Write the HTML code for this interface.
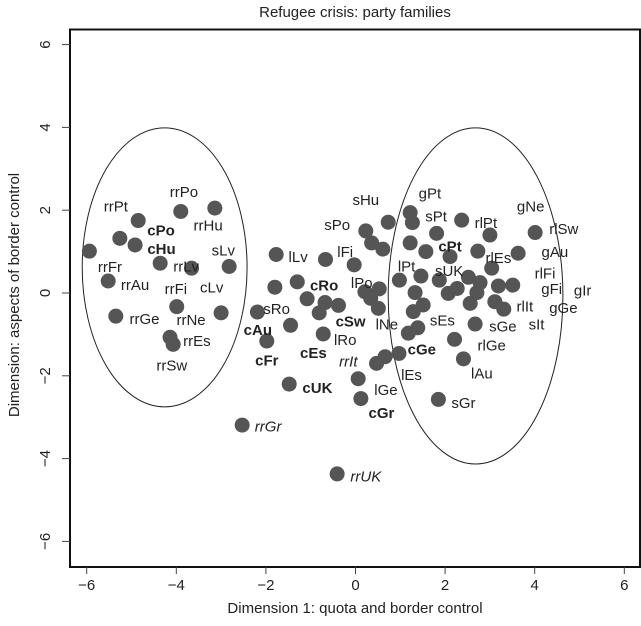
<!DOCTYPE html>
<html><head><meta charset="utf-8"><style>
body{margin:0;background:#fff;}
svg{display:block;font-family:"Liberation Sans",Arial,sans-serif;}
</style></head><body>
<svg id="chart" width="641" height="626" viewBox="0 0 641 626" xmlns="http://www.w3.org/2000/svg">
<text x="355" y="17" text-anchor="middle" font-size="15" fill="#222">Refugee crisis: party families</text>
<text x="355" y="613" text-anchor="middle" font-size="15" fill="#222">Dimension 1: quota and border control</text>
<text transform="translate(19,295) rotate(-90)" text-anchor="middle" font-size="15" fill="#222">Dimension: aspects of border control</text>
<rect x="70" y="29.5" width="570" height="537.5" fill="none" stroke="#111" stroke-width="2"/>
<g id="axes"></g><g id="ellipses"></g><g id="dots"></g><g id="labels"></g>
</svg>
<script>
const xTicks=[-6,-4,-2,0,2,4,6];
const yTicks=[-6,-4,-2,0,2,4,6];
const dotX=[-4.85,-5.26,-4.92,-5.94,-3.90,-3.14,-4.36,-3.66,-2.82,-5.52,-3.99,-3.00,-5.35,-4.14,-4.07,-2.53,-0.41,
-2.19,-1.98,-1.77,-1.80,-1.30,-1.45,-1.48,-1.08,-0.68,-0.81,-0.38,-0.72,-0.67,-0.03,0.21,0.53,0.34,0.51,0.06,0.12,0.47,0.66,0.23,0.36,0.61,0.73,0.97,0.98,
1.22,1.27,1.22,1.81,2.37,3.00,1.57,2.11,2.73,3.63,4.01,3.04,1.46,1.87,2.52,2.78,3.19,3.51,1.33,2.07,2.27,2.71,2.56,3.11,3.31,1.51,1.29,1.39,1.18,2.67,2.21,2.41,1.85];
const dotY=[1.75,1.32,1.16,1.01,1.97,2.05,0.72,0.60,0.64,0.29,-0.33,-0.48,-0.56,-1.07,-1.24,-3.19,-4.37,
-0.46,-1.16,0.93,0.14,0.27,-0.78,-2.20,-0.14,-0.23,-0.48,-0.30,-0.99,0.81,0.68,0.03,0.10,-0.13,-0.37,-2.07,-2.55,-1.70,-1.54,1.50,1.21,1.06,1.71,-1.46,0.31,
1.94,1.70,1.21,1.44,1.76,1.40,1.00,0.88,1.01,0.96,1.46,0.60,0.41,0.31,0.38,0.25,0.17,0.19,0.01,-0.01,0.11,0.01,-0.25,-0.21,-0.39,-0.29,-0.45,-0.84,-0.97,-0.75,-1.12,-1.59,-2.57];
const labelText=["rrPo","rrPt","cPo","rrHu","cHu","sLv","rrFr","rrLv","rrAu","rrFi","cLv","rrGe","rrNe","rrEs","rrSw","cAu","cFr","rrGr","rrUK",
"sHu","sPo","lLv","lFi","lPt","lPo","cRo","sRo","cSw","lNe","lRo","cEs","rrIt","cGe","lEs","cUK","lGe","cGr",
"gPt","sPt","rlPt","gNe","rlSw","cPt","rlEs","gAu","sUK","rlFi","gFi","gIr","rlIt","gGe","sEs","sGe","sIt","rlGe","lAu","sGr"];
const labelX=[-3.83,-5.35,-4.34,-3.29,-4.33,-2.95,-5.48,-3.78,-4.92,-4.01,-3.21,-4.71,-3.67,-3.54,-4.10,-2.18,-1.98,-1.95,0.23,
0.23,-0.41,-1.28,-0.23,1.14,0.14,-0.70,-1.76,-0.11,0.70,-0.23,-0.94,-0.16,1.48,1.25,-0.85,0.68,0.58,
1.66,1.80,2.91,3.91,4.65,2.11,3.19,4.45,2.09,4.23,4.38,5.07,3.78,4.64,1.94,3.29,4.04,3.04,2.82,2.41];
const labelY=[2.45,2.10,1.52,1.64,1.08,1.04,0.64,0.65,0.21,0.11,0.15,-0.61,-0.64,-1.15,-1.74,-0.88,-1.62,-3.21,-4.42,
2.26,1.65,0.88,1.00,0.65,0.25,0.19,-0.37,-0.68,-0.75,-1.12,-1.44,-1.64,-1.35,-1.97,-2.28,-2.33,-2.89,
2.42,1.86,1.70,2.10,1.56,1.14,0.86,1.00,0.54,0.48,0.11,0.07,-0.31,-0.35,-0.65,-0.80,-0.75,-1.26,-1.93,-2.65];
const ellCx=[-4.26,2.68], ellCy=[0.62,-0.07], ellRx=[1.84,1.95], ellRy=[3.37,4.06];
const boldSet=["cPo","cHu","cAu","cFr","cRo","cSw","cEs","cGe","cUK","cGr","cPt"];
const italSet=["rrGr","rrUK","rrIt"];

const sx=v=>355.5+v*44.8, sy=v=>293-v*41.4;
const NS="http://www.w3.org/2000/svg";
function mk(t,p,a){const e=document.createElementNS(NS,t);for(const k in a)e.setAttribute(k,a[k]);p.appendChild(e);return e;}
const ax=document.getElementById('axes');
xTicks.forEach(v=>{
 const l=mk('line',ax,{x1:sx(v),x2:sx(v),y1:567,y2:574,stroke:'#444','stroke-width':1});
 
 
 const t=mk('text',ax,{x:sx(v),y:590,'text-anchor':'middle','font-size':15,fill:'#222'});
 t.textContent=(v<0?'\u2212'+(-v):String(v));
 
 
});
yTicks.forEach(v=>{
 const l=mk('line',ax,{x1:62,x2:70,y1:sy(v),y2:sy(v),stroke:'#444','stroke-width':1});
 
 
 const t=mk('text',ax,{transform:`translate(50,${sy(v)}) rotate(-90)`,'text-anchor':'middle','font-size':15,fill:'#222'});
 t.textContent=(v<0?'\u2212'+(-v):String(v));
 
 
});
const eg=document.getElementById('ellipses');
ellCx.forEach((c,i)=>{
 const e=mk('ellipse',eg,{cx:sx(c),cy:sy(ellCy[i]),rx:ellRx[i]*44.8,ry:ellRy[i]*41.4,fill:'none',stroke:'#222','stroke-width':1});
 
 
});
const dg=document.getElementById('dots');
dotX.forEach((x,i)=>{
 const c=mk('circle',dg,{cx:sx(x),cy:sy(dotY[i]),r:7.5,fill:'#555'});
 
 
});
const lg=document.getElementById('labels');
labelText.forEach((s,i)=>{
 const t=mk('text',lg,{x:sx(labelX[i]),y:sy(labelY[i])+5.5,'text-anchor':'middle','font-size':15,fill:'#222'});
 if(boldSet.includes(s))t.setAttribute('font-weight','bold');
 if(italSet.includes(s))t.setAttribute('font-style','italic');
 t.textContent=s;
 
 
});
</script>
</body></html>
